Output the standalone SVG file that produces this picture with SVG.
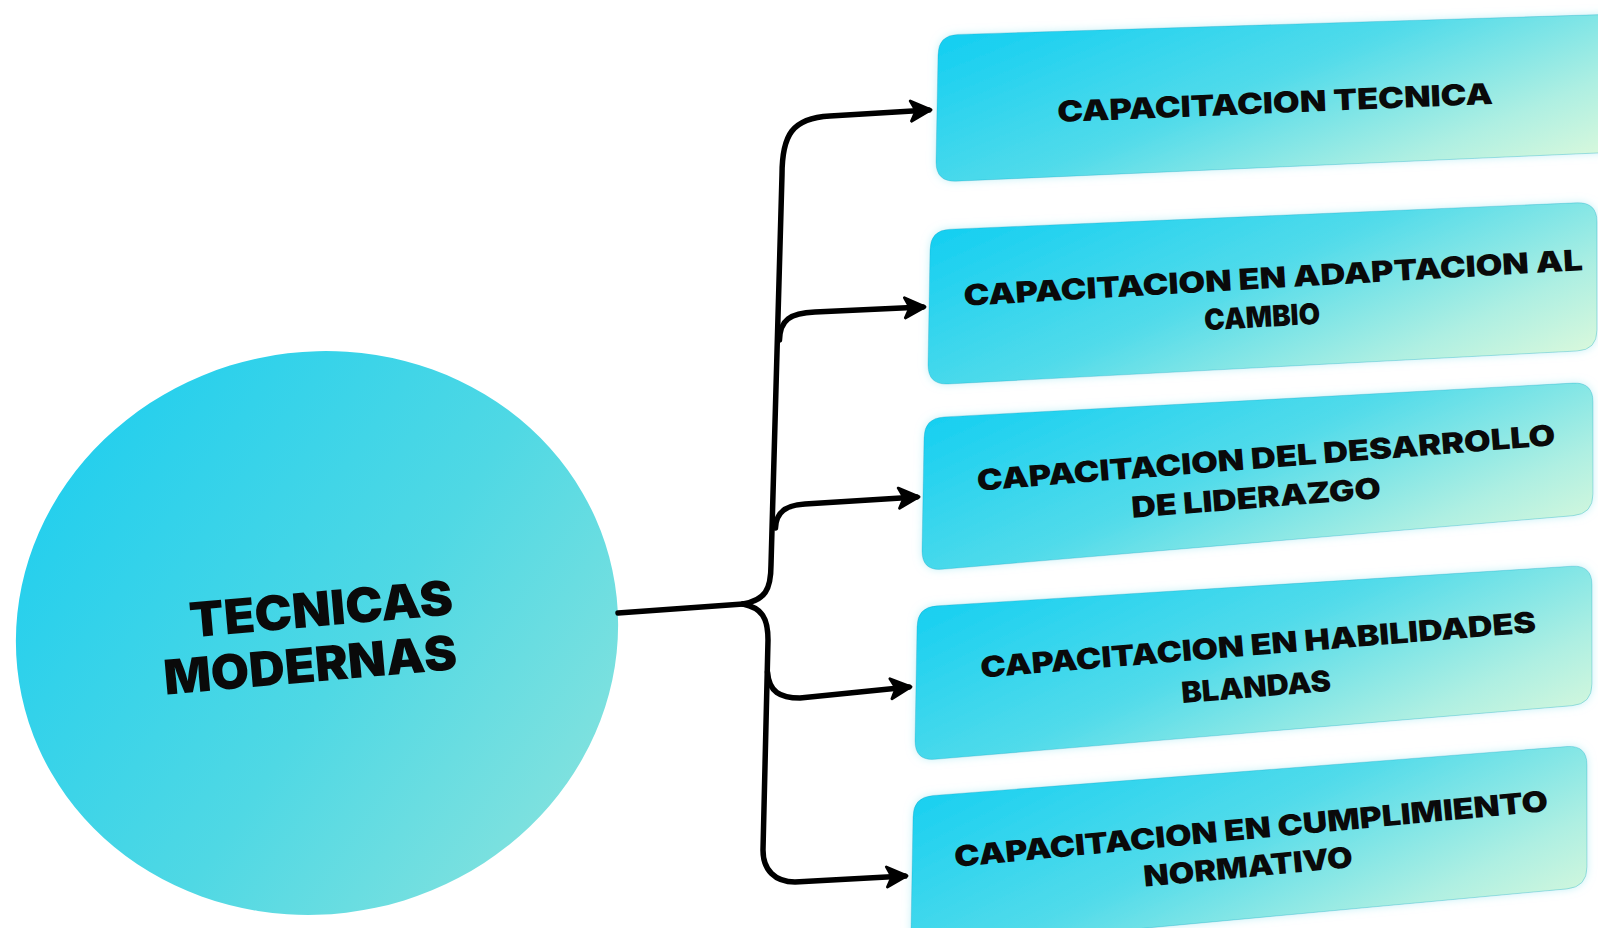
<svg xmlns="http://www.w3.org/2000/svg" width="1598" height="928" viewBox="0 0 1598 928">
<defs>
<linearGradient id="boxGrad" x1="0" y1="0.2" x2="1" y2="0.8">
<stop offset="0" stop-color="#16cff1"/>
<stop offset="0.45" stop-color="#52dbea"/>
<stop offset="0.8" stop-color="#aeefe2"/>
<stop offset="1" stop-color="#d8f8dc"/>
</linearGradient>
<linearGradient id="circGrad" x1="0" y1="0" x2="1" y2="1">
<stop offset="0" stop-color="#17ccf0"/>
<stop offset="0.55" stop-color="#4fd8e4"/>
<stop offset="1" stop-color="#93e5dc"/>
</linearGradient>
<filter id="glow" x="-10%" y="-20%" width="120%" height="140%">
<feDropShadow dx="0" dy="0" stdDeviation="4" flood-color="#9fe8f2" flood-opacity="0.6"/>
</filter>
<marker id="arrow" viewBox="0 0 12 12" refX="10" refY="6" markerWidth="4.4" markerHeight="4.4" orient="auto" markerUnits="strokeWidth">
<path d="M1,1 L11,6 L1,11 L3.5,6 Z" fill="#000" stroke="#000" stroke-width="1.4" stroke-linejoin="round"/>
</marker>
</defs>
<style>
.box{fill:url(#boxGrad);stroke:#13a9c6;stroke-opacity:0.35;stroke-width:1;filter:url(#glow);}
.lbl{font-family:Inter,"Liberation Sans","DejaVu Sans",sans-serif;font-weight:900;font-size:29px;fill:#0a0a0a;text-anchor:middle;}
.big{font-family:Inter,"Liberation Sans","DejaVu Sans",sans-serif;font-weight:900;font-size:48px;fill:#0a0a0a;text-anchor:middle;}
.conn{fill:none;stroke:#000;stroke-width:5.5;stroke-linecap:round;stroke-linejoin:round;}
</style>
<rect width="1598" height="928" fill="#ffffff"/>

<g id="center-node">
<ellipse cx="317" cy="633" rx="302" ry="281" transform="rotate(-12 317 633)" fill="url(#circGrad)"/>
<text class="big" transform="rotate(-5 321 608)" x="321" y="626" textLength="264" lengthAdjust="spacingAndGlyphs">TECNICAS</text>
<text class="big" transform="rotate(-5 310 664)" x="310" y="682" textLength="294" lengthAdjust="spacingAndGlyphs">MODERNAS</text>
</g>

<g id="node-tecnica">
<path class="box" d="M 938,55 Q 938,35 958,34.4 L 1620,14 L 1620,152 L 956,181.2 Q 936,182 936,162 Z"/>
<text class="lbl" transform="rotate(-2.4 1275 102)" x="1275" y="113" textLength="436" lengthAdjust="spacingAndGlyphs">CAPACITACION TECNICA</text>
</g>

<g id="node-adaptacion">
<path class="box" d="M 930,250 Q 930,230 950,229.2 L 1577,202.8 Q 1597,202 1597,222 L 1597,330 Q 1597,350 1577,351 L 948,384 Q 928,385 928,365 Z"/>
<text class="lbl" transform="rotate(-3.3 1273 277)" x="1273" y="288" textLength="620" lengthAdjust="spacingAndGlyphs">CAPACITACION EN ADAPTACION AL</text>
<text class="lbl" transform="rotate(-3.3 1262 316)" x="1262" y="327" textLength="116" lengthAdjust="spacingAndGlyphs">CAMBIO</text>
</g>

<g id="node-liderazgo">
<path class="box" d="M 924,438 Q 924,418 944,416.9 L 1573,383.1 Q 1593,382 1593,402 L 1593,494 Q 1593,514 1573,515.7 L 942,569.3 Q 922,571 922,551 Z"/>
<text class="lbl" transform="rotate(-4.5 1266 457)" x="1266" y="468" textLength="580" lengthAdjust="spacingAndGlyphs">CAPACITACION DEL DESARROLLO</text>
<text class="lbl" transform="rotate(-4.5 1256 497)" x="1256" y="508" textLength="250" lengthAdjust="spacingAndGlyphs">DE LIDERAZGO</text>
</g>

<g id="node-habilidades">
<path class="box" d="M 917,627 Q 917,607 937,605.8 L 1572,566.2 Q 1592,565 1592,585 L 1592,684 Q 1592,704 1572,705.7 L 935,759.3 Q 915,761 915,741 Z"/>
<text class="lbl" transform="rotate(-4.7 1258 644)" x="1258" y="655" textLength="557" lengthAdjust="spacingAndGlyphs">CAPACITACION EN HABILIDADES</text>
<text class="lbl" transform="rotate(-4.7 1256 686)" x="1256" y="697" textLength="150" lengthAdjust="spacingAndGlyphs">BLANDAS</text>
</g>

<g id="node-normativo">
<path class="box" d="M 913,817 Q 913,797 933,795.5 L 1567,746.5 Q 1587,745 1587,765 L 1587,867 Q 1587,887 1567,888.9 L 931,948.1 Q 911,950 911,930 Z"/>
<text class="lbl" transform="rotate(-5.4 1251 828)" x="1251" y="839" textLength="596" lengthAdjust="spacingAndGlyphs">CAPACITACION EN CUMPLIMIENTO</text>
<text class="lbl" transform="rotate(-5.4 1248 866)" x="1248" y="877" textLength="210" lengthAdjust="spacingAndGlyphs">NORMATIVO</text>
</g>

<g id="connectors">
<path class="conn" d="M 618 613 L 743 604"/>
<path class="conn" marker-end="url(#arrow)" d="M 743 604 C 765 600, 771 590, 771 565 L 782 175 C 782 135, 792 118, 830 116 L 929 110"/>
<path class="conn" marker-end="url(#arrow)" d="M 779.5 340 C 780 320, 790 313, 815 312 L 923 307"/>
<path class="conn" marker-end="url(#arrow)" d="M 775.5 528 C 776 512, 786 505, 805 504 L 917 497"/>
<path class="conn" marker-end="url(#arrow)" d="M 743 604 C 762 608, 768 618, 768 640 L 763 850 C 763 870, 775 882, 795 882 L 905 876"/>
<path class="conn" marker-end="url(#arrow)" d="M 767.5 672 C 769 692, 780 698, 800 698 L 909 687"/>
</g>
</svg>
